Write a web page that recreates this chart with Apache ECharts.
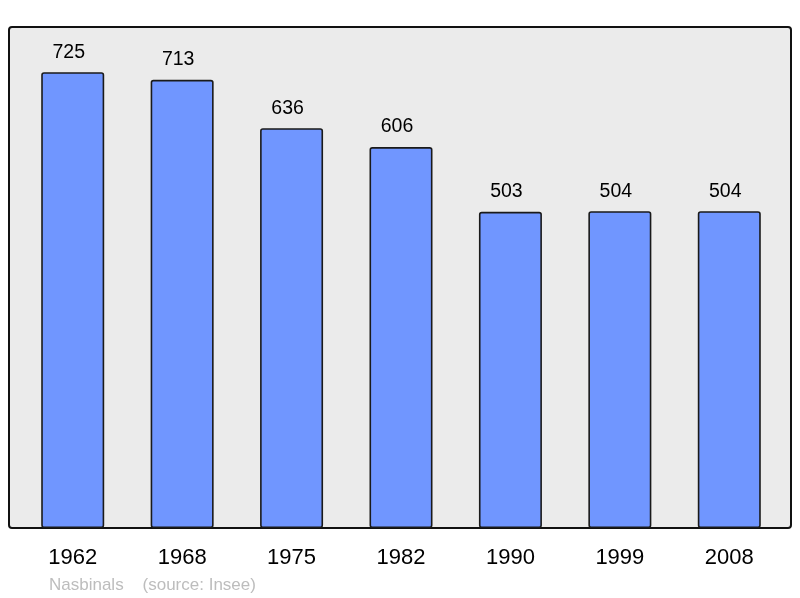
<!DOCTYPE html>
<html><head><meta charset="utf-8">
<script src="https://cdn.jsdelivr.net/npm/echarts@6/dist/echarts.min.js"></script>
<style>html,body{margin:0;padding:0;background:#fff}#c{width:800px;height:598px}</style>
</head><body><div id="c"></div>
<script>
const categories = ['1962','1968','1975','1982','1990','1999','2008'];
const population = [725, 713, 636, 606, 503, 504, 504];
const commune = 'Nasbinals';
const source = '(source: Insee)';

const chart = echarts.init(document.getElementById('c'), null, {renderer:'canvas'});
chart.setOption({
  animation:false,
  textStyle:{fontFamily:'Liberation Sans, Arial, sans-serif'},
  graphic:[
    {type:'rect', z:-10, shape:{x:9,y:27,width:782,height:501,r:3},
     style:{fill:'#ebebeb', stroke:'#111', lineWidth:2}},
    {type:'text', left:49, top:577, style:{text:commune + '    ' + source, fill:'#bdbdbd', fontSize:17, fontFamily:'Liberation Sans, Arial, sans-serif'}}
  ],
  grid:{left:18, right:16, top:27, bottom:70},
  xAxis:{type:'category', data:categories, axisLine:{show:false}, axisTick:{show:false},
    axisLabel:{color:'#000', fontSize:22, margin:19}},
  yAxis:{type:'value', min:0, max:797, show:false, splitLine:{show:false}},
  series:[{type:'bar', data:population, barWidth:63,
    itemStyle:{color:'#7096ff', borderColor:'#1a1a1a', borderWidth:1.6, borderRadius:2},
    label:{show:true, position:'top', distance:10, offset:[-4,0], color:'#000', fontSize:19.5}}]
});
</script></body></html>
